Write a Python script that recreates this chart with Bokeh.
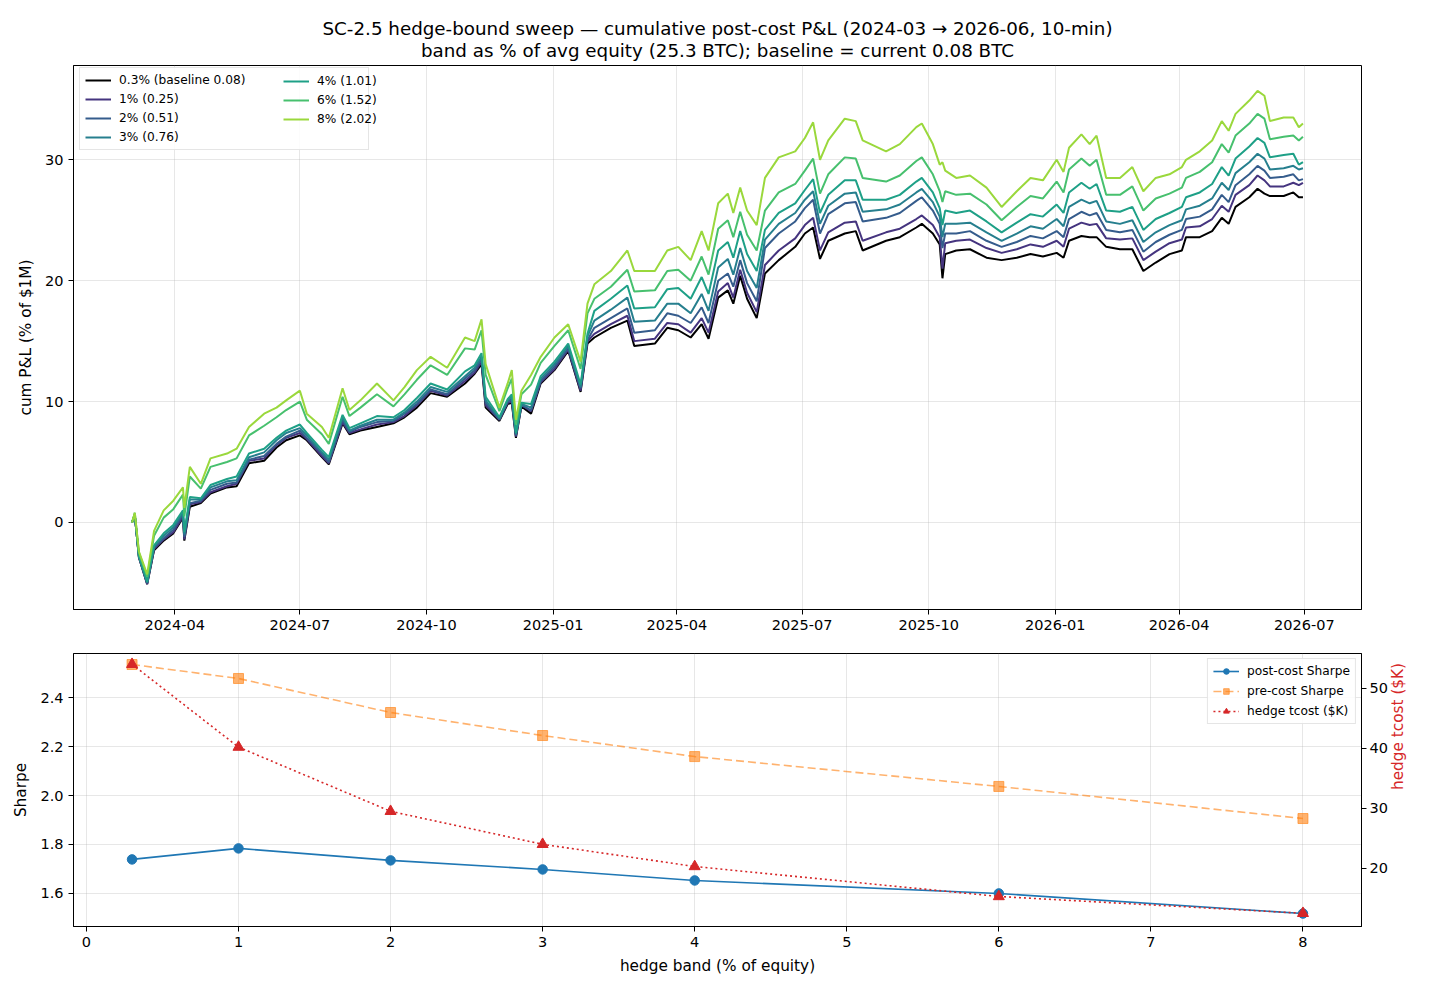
import math
import pandas as pd
from bokeh.plotting import figure
from bokeh.models import (Range1d, LinearAxis, Legend, LegendItem, Title, FixedTicker,
                          MonthsTicker, DatetimeTickFormatter, PrintfTickFormatter)
from bokeh.layouts import column
from bokeh.palettes import Viridis256
from bokeh.embed import file_html
from bokeh.resources import INLINE


# ---- top panel: cumulative post-cost P&L (% of $1M)
dates = [
    "2024-03-01", "2024-03-03", "2024-03-06", "2024-03-12", "2024-03-17", "2024-03-24", "2024-03-31", "2024-04-07", "2024-04-08", "2024-04-12",
    "2024-04-20", "2024-04-27", "2024-05-09", "2024-05-16", "2024-05-25", "2024-06-05", "2024-06-14", "2024-06-21", "2024-07-01", "2024-07-06",
    "2024-07-17", "2024-07-22", "2024-08-01", "2024-08-06", "2024-08-14", "2024-08-26", "2024-09-07", "2024-09-15", "2024-09-24", "2024-10-04",
    "2024-10-16", "2024-10-29", "2024-11-05", "2024-11-10", "2024-11-13", "2024-11-23", "2024-11-29", "2024-12-02", "2024-12-05", "2024-12-09",
    "2024-12-16", "2024-12-23", "2025-01-02", "2025-01-12", "2025-01-21", "2025-01-26", "2025-01-31", "2025-02-12", "2025-02-24", "2025-03-01",
    "2025-03-16", "2025-03-25", "2025-04-02", "2025-04-11", "2025-04-19", "2025-04-24", "2025-05-01", "2025-05-08", "2025-05-12", "2025-05-17",
    "2025-05-22", "2025-05-29", "2025-06-04", "2025-06-14", "2025-06-26", "2025-07-03", "2025-07-09", "2025-07-14", "2025-07-20", "2025-08-01",
    "2025-08-09", "2025-08-14", "2025-08-31", "2025-09-10", "2025-09-22", "2025-09-26", "2025-10-04", "2025-10-09", "2025-10-11", "2025-10-13",
    "2025-10-21", "2025-10-31", "2025-11-12", "2025-11-23", "2025-12-04", "2025-12-14", "2025-12-23", "2026-01-02", "2026-01-07", "2026-01-11",
    "2026-01-20", "2026-01-26", "2026-01-31", "2026-02-07", "2026-02-17", "2026-02-26", "2026-03-06", "2026-03-15", "2026-03-25", "2026-04-03",
    "2026-04-06", "2026-04-16", "2026-04-25", "2026-05-02", "2026-05-07", "2026-05-12", "2026-05-22", "2026-05-28", "2026-06-02", "2026-06-06",
    "2026-06-16", "2026-06-23", "2026-06-27", "2026-06-30",
]

pnl_03 = [
    0.0, 0.6, -2.9, -5.1, -2.3, -1.5, -0.9, 0.4, -1.5, 1.3,
    1.6, 2.4, 2.9, 3.0, 4.9, 5.1, 6.2, 6.8, 7.2, 6.8,
    5.4, 4.8, 8.2, 7.3, 7.6, 7.9, 8.2, 8.7, 9.5, 10.7,
    10.4, 11.5, 12.3, 13.1, 9.5, 8.4, 9.8, 9.9, 7.0, 9.6,
    9.0, 11.5, 12.6, 14.2, 10.8, 14.8, 15.3, 16.1, 16.7, 14.6,
    14.8, 16.1, 15.9, 15.3, 16.4, 15.2, 18.6, 19.2, 18.1, 20.4,
    18.5, 16.9, 20.6, 21.7, 22.8, 23.9, 24.4, 21.8, 23.3, 23.9,
    24.1, 22.5, 23.3, 23.6, 24.4, 24.7, 23.9, 23.0, 20.2, 22.2,
    22.5, 22.6, 21.9, 21.7, 21.9, 22.2, 22.0, 22.3, 21.9, 23.3,
    23.7, 23.6, 23.6, 22.8, 22.6, 22.6, 20.8, 21.5, 22.2, 22.5,
    23.6, 23.6, 24.1, 25.2, 24.7, 26.1, 26.9, 27.6, 27.2, 27.0,
    27.0, 27.3, 26.9, 26.9,
]
pnl_1 = [
    0.0, 0.6, -2.9, -5.1, -2.2, -1.4, -0.8, 0.5, -1.4, 1.5,
    1.7, 2.5, 3.0, 3.2, 5.1, 5.3, 6.4, 7.0, 7.4, 6.9,
    5.5, 4.9, 8.3, 7.4, 7.7, 8.1, 8.3, 8.8, 9.7, 10.9,
    10.5, 11.7, 12.4, 13.3, 9.7, 8.5, 9.9, 10.0, 7.1, 9.7,
    9.2, 11.6, 12.7, 14.3, 10.9, 15.0, 15.6, 16.4, 17.1, 15.0,
    15.2, 16.5, 16.4, 15.7, 16.9, 15.7, 19.1, 19.8, 18.6, 20.9,
    19.0, 17.4, 21.3, 22.5, 23.5, 24.6, 25.2, 22.5, 24.0, 24.8,
    24.9, 23.3, 24.0, 24.3, 25.1, 25.4, 24.6, 23.6, 21.0, 23.1,
    23.3, 23.4, 22.7, 22.3, 22.6, 23.0, 22.8, 23.3, 22.8, 24.3,
    24.8, 24.6, 24.7, 23.5, 23.4, 23.5, 21.7, 22.4, 23.1, 23.4,
    24.4, 24.5, 25.1, 26.2, 25.7, 27.1, 27.9, 28.7, 28.3, 27.8,
    27.8, 28.1, 27.9, 28.1,
]
pnl_2 = [
    0.0, 0.6, -2.8, -5.0, -2.1, -1.3, -0.6, 0.7, -1.2, 1.6,
    1.8, 2.7, 3.2, 3.3, 5.2, 5.5, 6.5, 7.1, 7.6, 7.0,
    5.7, 5.0, 8.5, 7.5, 7.9, 8.3, 8.4, 9.0, 9.8, 11.0,
    10.6, 11.9, 12.6, 13.5, 9.9, 8.5, 10.0, 10.2, 7.2, 9.7,
    9.3, 11.7, 12.9, 14.4, 11.1, 15.1, 16.1, 16.9, 17.7, 15.7,
    15.9, 17.3, 17.1, 16.5, 17.8, 16.5, 20.0, 20.6, 19.5, 21.7,
    19.8, 18.3, 22.7, 23.9, 24.9, 26.0, 26.7, 23.9, 25.5, 26.4,
    26.5, 24.9, 25.2, 25.6, 26.6, 26.9, 25.8, 24.7, 22.7, 23.9,
    23.9, 24.1, 23.3, 22.8, 23.2, 23.7, 23.5, 24.1, 23.6, 25.1,
    25.7, 25.4, 25.6, 24.2, 24.0, 24.2, 22.4, 23.2, 23.8, 24.2,
    25.1, 25.3, 25.9, 27.1, 26.5, 27.9, 28.8, 29.5, 29.1, 28.5,
    28.6, 28.8, 28.3, 28.4,
]
pnl_3 = [
    0.0, 0.6, -2.8, -5.0, -2.0, -1.1, -0.4, 0.8, -1.0, 1.9,
    1.9, 2.9, 3.4, 3.5, 5.4, 5.8, 6.8, 7.4, 7.8, 7.2,
    5.8, 5.2, 8.7, 7.6, 8.0, 8.5, 8.5, 9.1, 10.0, 11.2,
    10.8, 12.1, 12.8, 13.7, 10.1, 8.6, 10.1, 10.4, 7.3, 9.8,
    9.5, 11.9, 13.1, 14.6, 11.2, 15.4, 16.7, 17.6, 18.6, 16.6,
    16.7, 18.1, 18.1, 17.3, 18.9, 17.5, 21.1, 21.8, 20.5, 22.7,
    20.8, 19.4, 23.4, 24.7, 25.6, 26.7, 27.4, 24.7, 26.2, 27.2,
    27.3, 25.7, 25.9, 26.3, 27.3, 27.6, 26.5, 25.3, 23.6, 24.7,
    24.7, 24.8, 24.0, 23.3, 23.9, 24.5, 24.3, 25.1, 24.5, 26.1,
    26.7, 26.4, 26.6, 24.9, 24.7, 25.0, 23.2, 24.0, 24.6, 25.0,
    25.9, 26.2, 26.8, 28.1, 27.5, 28.9, 29.8, 30.5, 30.1, 29.2,
    29.3, 29.5, 29.2, 29.3,
]
pnl_4 = [
    0.0, 0.6, -2.8, -4.9, -1.9, -0.9, -0.2, 1.0, -0.8, 2.1,
    2.0, 3.1, 3.6, 3.8, 5.7, 6.1, 7.0, 7.6, 8.1, 7.4,
    6.0, 5.4, 8.9, 7.8, 8.2, 8.8, 8.7, 9.3, 10.3, 11.5,
    11.0, 12.5, 13.0, 14.0, 10.4, 8.7, 10.2, 10.6, 7.4, 9.9,
    9.8, 12.1, 13.3, 14.8, 11.4, 15.6, 17.5, 18.5, 19.6, 17.7,
    17.8, 19.3, 19.4, 18.5, 20.3, 18.9, 22.5, 23.2, 21.9, 24.1,
    22.2, 20.8, 24.2, 25.6, 26.4, 27.5, 28.4, 25.6, 27.1, 28.3,
    28.3, 26.7, 26.7, 27.1, 28.2, 28.5, 27.3, 26.0, 24.6, 25.8,
    25.6, 25.8, 24.9, 24.0, 24.8, 25.5, 25.3, 26.3, 25.6, 27.3,
    28.1, 27.6, 28.0, 25.8, 25.7, 26.1, 24.2, 25.1, 25.6, 26.1,
    26.9, 27.3, 28.0, 29.4, 28.7, 30.1, 31.1, 31.8, 31.4, 30.2,
    30.4, 30.5, 29.6, 29.8,
]
pnl_6 = [
    0.0, 0.8, -2.5, -4.5, -1.1, 0.4, 1.1, 2.3, 0.5, 3.8,
    2.8, 4.6, 5.0, 5.3, 7.2, 8.0, 8.7, 9.3, 10.0, 8.5,
    7.3, 6.5, 10.4, 8.8, 9.5, 10.6, 9.6, 10.6, 11.8, 13.0,
    12.2, 14.4, 14.3, 15.9, 12.2, 9.2, 11.1, 11.9, 8.1, 10.6,
    11.4, 13.2, 14.6, 15.9, 12.7, 17.3, 18.5, 19.5, 20.9, 19.1,
    19.2, 20.8, 20.9, 20.0, 22.0, 20.5, 24.3, 25.0, 23.6, 25.7,
    23.8, 22.5, 25.8, 27.3, 28.0, 29.1, 30.1, 27.2, 28.8, 30.2,
    30.1, 28.5, 28.2, 28.7, 29.9, 30.2, 28.8, 27.4, 26.5, 27.4,
    27.1, 27.2, 26.3, 25.0, 26.1, 27.0, 26.8, 28.2, 27.3, 29.2,
    30.1, 29.5, 30.0, 27.1, 27.1, 27.8, 25.8, 26.8, 27.2, 27.7,
    28.5, 29.0, 29.8, 31.3, 30.6, 32.0, 33.0, 33.8, 33.4, 31.7,
    31.9, 32.0, 31.6, 31.9,
]
pnl_8 = [
    0.0, 0.8, -2.4, -4.3, -0.7, 1.0, 1.8, 2.9, 1.2, 4.6,
    3.2, 5.3, 5.7, 6.1, 7.9, 9.0, 9.5, 10.1, 10.9, 9.0,
    7.9, 7.0, 11.1, 9.3, 10.1, 11.5, 10.1, 11.2, 12.6, 13.7,
    12.8, 15.3, 15.0, 16.8, 13.1, 9.5, 11.5, 12.6, 8.5, 10.9,
    12.2, 13.7, 15.3, 16.4, 13.3, 18.1, 19.7, 20.8, 22.5, 20.8,
    20.8, 22.5, 22.8, 21.7, 24.1, 22.5, 26.4, 27.2, 25.6, 27.7,
    25.8, 24.6, 28.5, 30.2, 30.7, 31.8, 33.1, 30.0, 31.6, 33.4,
    33.2, 31.6, 30.7, 31.3, 32.7, 33.0, 31.3, 29.6, 29.8, 29.1,
    28.5, 28.7, 27.7, 26.1, 27.4, 28.5, 28.3, 30.0, 29.0, 31.0,
    32.1, 31.3, 32.0, 28.5, 28.5, 29.4, 27.4, 28.5, 28.8, 29.4,
    30.0, 30.7, 31.6, 33.2, 32.4, 33.8, 34.9, 35.7, 35.3, 33.2,
    33.5, 33.5, 32.7, 33.0,
]
series_labels = ["0.3% (baseline 0.08)", "1% (0.25)", "2% (0.51)", "3% (0.76)",
                 "4% (1.01)", "6% (1.52)", "8% (2.02)"]

# ---- bottom panel: sweep summary
bands = [0.3, 1, 2, 3, 4, 6, 8]
post_sharpe = [1.739, 1.784, 1.735, 1.698, 1.653, 1.600, 1.518]
pre_sharpe = [2.535, 2.478, 2.339, 2.245, 2.159, 2.037, 1.906]
hedge_tcost = [54.0, 40.2, 29.5, 24.0, 20.3, 15.3, 12.5]

FONT = "DejaVu Sans"
W = 1422


def style(p):
    p.outline_line_color = "black"
    p.outline_line_width = 1
    p.background_fill_color = "white"
    p.border_fill_color = "white"
    for ax in p.axis:
        ax.axis_line_color = "black"
        ax.major_tick_out = 5
        ax.major_tick_in = 0
        ax.minor_tick_out = 0
        ax.minor_tick_in = 0
        ax.major_label_text_font = FONT
        ax.major_label_text_font_size = "14.5px"
        ax.major_label_text_color = "black"
        ax.axis_label_text_font = FONT
        ax.axis_label_text_font_size = "15.3px"
        ax.axis_label_text_font_style = "normal"
        ax.axis_label_text_color = "black"
        ax.axis_label_standoff = 7
    for g in p.grid:
        g.grid_line_color = "#b0b0b0"
        g.grid_line_alpha = 0.3


def legend_style(leg):
    leg.label_text_font = FONT
    leg.label_text_font_size = "12.2px"
    leg.label_text_color = "black"
    leg.glyph_width = 26
    leg.glyph_height = 14
    leg.label_height = 14
    leg.spacing = 5
    leg.label_standoff = 8
    leg.padding = 5


# ---- top figure
x_dates = pd.to_datetime(dates)
pad = (x_dates[-1] - x_dates[0]) * 0.05
top = figure(width=W, height=644, x_axis_type="datetime",
             x_range=Range1d(x_dates[0] - pad, x_dates[-1] + pad),
             y_range=Range1d(-7.2, 37.8),
             output_backend="svg", toolbar_location=None,
             min_border_left=73, min_border_right=61, min_border_top=65, min_border_bottom=35)
top.title = None
title = Title(text="SC-2.5 hedge-bound sweep \u2014 cumulative post-cost P&L (2024-03 \u2192 2026-06, 10-min)\n"
                   "band as % of avg equity (25.3 BTC); baseline = current 0.08 BTC",
              align="center", text_font=FONT, text_font_size="18.3px", text_color="black",
              text_font_style="normal", standoff=9, text_line_height=1.03)
title.text_align = "center"
top.add_layout(title, "above")

colors = ["black"] + [Viridis256[round(255 * t)] for t in [0.15, 0.29, 0.43, 0.57, 0.71, 0.85]]
items = []
for vals, lab, col in zip([pnl_03, pnl_1, pnl_2, pnl_3, pnl_4, pnl_6, pnl_8], series_labels, colors):
    r = top.line(x_dates, vals, line_color=col, line_width=2)
    items.append(LegendItem(label=lab, renderers=[r]))

# legend as two columns: first column carries the frame, second sits inside it
frame_h = 644 - 65 - 35
leg_a = Legend(items=items[:4], location=(6, frame_h - 4 - (2 * 5 + 4 * 14 + 3 * 5)), margin=0,
               border_line_color="#cccccc", background_fill_alpha=0.85, label_width=244)
legend_style(leg_a)
top.add_layout(leg_a)
leg_b = Legend(items=items[4:], location=(205, frame_h - 4 - (2 * 5 + 3 * 14 + 2 * 5)), margin=0,
               border_line_alpha=0, background_fill_alpha=0)
legend_style(leg_b)
top.add_layout(leg_b)

top.xaxis.ticker = MonthsTicker(months=[0, 3, 6, 9])
top.xaxis.formatter = DatetimeTickFormatter(months="%Y-%m", days="%Y-%m", years="%Y-%m")
top.yaxis.ticker = FixedTicker(ticks=[0, 10, 20, 30])
top.yaxis.axis_label = "cum P&L (% of $1M)"
style(top)

# ---- bottom figure
bot = figure(width=W, height=336, x_range=Range1d(-0.085, 8.385), y_range=Range1d(1.465, 2.58),
             output_backend="svg", toolbar_location=None,
             min_border_left=73, min_border_right=61, min_border_top=9, min_border_bottom=54)
bot.extra_y_ranges = {"tc": Range1d(10.3, 55.8)}
right_ax = LinearAxis(y_range_name="tc", axis_label="hedge tcost ($K)",
                      ticker=FixedTicker(ticks=[20, 30, 40, 50]))
bot.add_layout(right_ax, "right")

l1 = bot.line(bands, post_sharpe, line_color="#1f77b4", line_width=1.6)
m1 = bot.scatter(bands, post_sharpe, marker="circle", size=9.5, fill_color="#1f77b4", line_color="#1f77b4")
l2 = bot.line(bands, pre_sharpe, line_color="#ff7f0e", line_width=1.6, line_alpha=0.6, line_dash="8 4")
m2 = bot.scatter(bands, pre_sharpe, marker="square", size=10, fill_color="#ff7f0e", fill_alpha=0.6,
                 line_color="#ff7f0e", line_alpha=0.6)
l3 = bot.line(bands, hedge_tcost, y_range_name="tc", line_color="#d62728", line_width=1.6, line_dash="2 3")
m3 = bot.scatter(bands, hedge_tcost, y_range_name="tc", marker="triangle", size=11,
                 fill_color="#d62728", line_color="#d62728")

leg2 = Legend(items=[LegendItem(label="post-cost Sharpe", renderers=[l1, m1]),
                     LegendItem(label="pre-cost Sharpe", renderers=[l2, m2]),
                     LegendItem(label="hedge tcost ($K)", renderers=[l3, m3])],
              location="top_right", margin=5,
              border_line_color="#cccccc", background_fill_alpha=0.85)
legend_style(leg2)
leg2.spacing = 6
bot.add_layout(leg2)

bot.xaxis.ticker = FixedTicker(ticks=list(range(9)))
bot.xaxis.axis_label = "hedge band (% of equity)"
bot.yaxis[0].ticker = FixedTicker(ticks=[1.6, 1.8, 2.0, 2.2, 2.4])
bot.yaxis[0].formatter = PrintfTickFormatter(format="%.1f")
bot.yaxis[0].axis_label = "Sharpe"
style(bot)
right_ax.axis_label_text_color = "#d62728"
right_ax.major_label_standoff = 3
if "axis_label_orientation" in right_ax.properties():
    right_ax.axis_label_orientation = math.pi / 2

layout = column(top, bot)
open("out.html", "w").write(file_html(layout, INLINE))
